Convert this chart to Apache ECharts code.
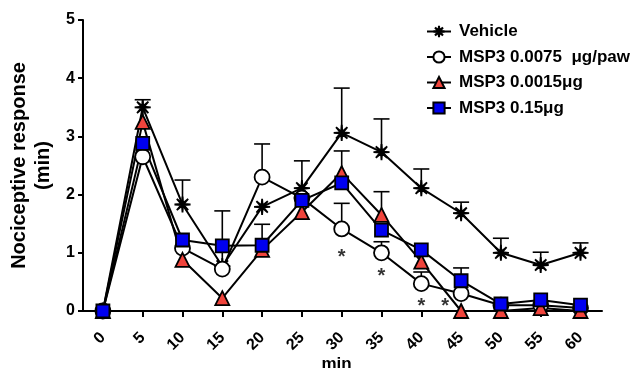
<!DOCTYPE html>
<html>
<head>
<meta charset="utf-8">
<script src="https://cdn.jsdelivr.net/npm/echarts@6/dist/echarts.min.js"></script>
<style>
html,body{margin:0;padding:0;background:#fff;}
#chart{width:635px;height:368px;}
</style>
</head>
<body>
<div id="chart"></div>
<script>
// time points (min)
var minutes = [0, 5, 10, 15, 20, 25, 30, 35, 40, 45, 50, 55, 60];

// group names
var names = ['Vehicle', 'MSP3 0.0075  \u03bcg/paw', 'MSP3 0.0015\u03bcg', 'MSP3 0.15\u03bcg'];

// means
var vehicle   = [0, 3.50, 1.83, 0.77, 1.79, 2.11, 3.06, 2.73, 2.11, 1.68, 1.00, 0.79, 1.00];
var msp0075   = [0, 2.65, 1.08, 0.72, 2.30, 1.94, 1.41, 1.00, 0.47, 0.30, 0.10, 0.10, 0.05];
var msp0015   = [0, 3.25, 0.88, 0.22, 1.05, 1.70, 2.37, 1.65, 0.85, 0.00, 0.00, 0.05, 0.00];
var msp015    = [0, 2.88, 1.22, 1.12, 1.13, 1.90, 2.20, 1.39, 1.05, 0.52, 0.12, 0.19, 0.10];

// upper error bars (SEM), 0 = hidden behind the symbol
var vehicleErr = [0, 0.13, 0.42, 0.95, 0, 0.47, 0.77, 0.57, 0.33, 0.19, 0.25, 0.22, 0.17];
var msp0075Err = [0, 0, 0, 0, 0.57, 0, 0.44, 0.19, 0.20, 0, 0, 0, 0];
var msp0015Err = [0, 0, 0, 0, 0, 0, 0.38, 0.40, 0, 0, 0, 0, 0];
var msp015Err  = [0, 0, 0, 0, 0.36, 0, 0, 0, 0, 0.22, 0, 0, 0];

// significance marks
var sigX = [30, 35, 40, 43];
var sigY = [0.92, 0.59, 0.075, 0.075];

var FONT = 'Liberation Sans, Arial, sans-serif';

function starPath(){
	var pts = [];
	for(var i = 0; i < 16; i++){
		var a = Math.PI * i / 8;
		var r = (i % 2 == 0) ? 50 : 9;
		pts.push((50 + r * Math.sin(a)).toFixed(1) + ',' + (50 - r * Math.cos(a)).toFixed(1));
	}
	return 'path://M' + pts.join('L') + 'Z';
}

function pairs(vals){
	var out = [];
	for(var i = 0; i < minutes.length; i++){
		out.push([minutes[i], vals[i]]);
	}
	return out;
}

function lineSeries(name, vals, symbol, size, fill){
	return {
		name: name,
		type: 'line',
		data: pairs(vals),
		symbol: symbol,
		symbolSize: size,
		showAllSymbol: true,
		z: 3,
		lineStyle: {color: '#000', width: 2},
		itemStyle: {color: fill, borderColor: '#000', borderWidth: 1.8, opacity: 1},
		emphasis: {disabled: true}
	};
}

function errSeries(vals, errs){
	var d = [];
	for(var i = 0; i < minutes.length; i++){
		if(errs[i] > 0) d.push([minutes[i], vals[i], vals[i] + errs[i]]);
	}
	return {
		type: 'custom',
		silent: true,
		z: 2,
		encode: {x: 0, y: [1, 2]},
		data: d,
		renderItem: function(params, api){
			var p0 = api.coord([api.value(0), api.value(1)]);
			var p1 = api.coord([api.value(0), api.value(2)]);
			return {
				type: 'group',
				children: [
					{type: 'line', shape: {x1: p0[0], y1: p0[1], x2: p1[0], y2: p1[1]}, style: {stroke: '#000', lineWidth: 1.6}},
					{type: 'line', shape: {x1: p1[0] - 8, y1: p1[1], x2: p1[0] + 8, y2: p1[1]}, style: {stroke: '#000', lineWidth: 1.6}}
				]
			};
		}
	};
}

var sigData = [];
for(var k = 0; k < sigX.length; k++) sigData.push([sigX[k], sigY[k]]);

var myChart = echarts.init(document.getElementById('chart'));
myChart.setOption({
	animation: false,
	textStyle: {fontFamily: FONT},
	grid: {left: 83, right: 33, top: 20, bottom: 57, containLabel: false, outerBoundsMode: 'none'},
	legend: {
		data: names,
		orient: 'vertical',
		left: 421,
		top: 18,
		itemGap: 8.5,
		itemWidth: 24,
		itemHeight: 14,
		textStyle: {fontSize: 17, fontWeight: 'bold', color: '#000', fontFamily: FONT, padding: [0, 0, 0, 3]}
	},
	xAxis: {
		type: 'value',
		min: -2.5,
		max: 62.7,
		name: 'min',
		nameLocation: 'middle',
		nameGap: 45,
		nameMoveOverlap: false,
		nameTextStyle: {fontSize: 17, fontWeight: 'bold', color: '#000', padding: [0, 12, 0, 0]},
		axisLine: {onZero: false, lineStyle: {color: '#000', width: 2}},
		axisTick: {show: true, length: 6, lineStyle: {color: '#000', width: 2}, customValues: minutes},
		axisLabel: {customValues: minutes, rotate: 45, fontSize: 16, fontWeight: 'bold', color: '#000', margin: 24},
		splitLine: {show: false}
	},
	yAxis: {
		type: 'value',
		min: 0,
		max: 5,
		interval: 1,
		name: 'Nociceptive response\n(min)',
		nameLocation: 'middle',
		nameGap: 23,
		nameTextStyle: {fontSize: 20, fontWeight: 'bold', color: '#000', lineHeight: 24},
		axisLine: {show: true, onZero: false, lineStyle: {color: '#000', width: 2}},
		axisTick: {show: true, length: 5, lineStyle: {color: '#000', width: 2}},
		axisLabel: {fontSize: 16, fontWeight: 'bold', color: '#000', margin: 8},
		splitLine: {show: false}
	},
	series: [
		errSeries(vehicle, vehicleErr),
		errSeries(msp0075, msp0075Err),
		errSeries(msp0015, msp0015Err),
		errSeries(msp015, msp015Err),
		lineSeries(names[0], vehicle, starPath(), 16, '#000'),
		lineSeries(names[1], msp0075, 'circle', 15, '#fff'),
		lineSeries(names[2], msp0015, 'triangle', 14, '#F0443C'),
		lineSeries(names[3], msp015, 'rect', 13, '#0000F0'),
		{
			type: 'scatter',
			data: sigData,
			symbolSize: 0,
			silent: true,
			label: {show: true, position: 'inside', formatter: '*', fontSize: 20, fontWeight: 'bold', color: '#000'}
		}
	]
});
</script>
</body>
</html>
